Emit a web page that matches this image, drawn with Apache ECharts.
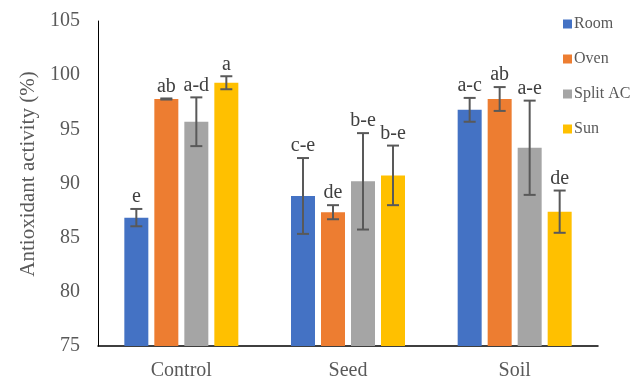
<!DOCTYPE html>
<html><head><meta charset="utf-8">
<script src="https://cdn.jsdelivr.net/npm/echarts@6/dist/echarts.min.js"></script>
<style>html,body{margin:0;padding:0;background:#fff}#c{width:642px;height:383px}</style>
</head><body><div id="c"></div>
<script>
const categories = ['Control', 'Seed', 'Soil'];
const seriesNames = ['Room', 'Oven', 'Split AC', 'Sun'];
const room = [86.85, 88.85, 96.8];
const oven = [97.8, 87.35, 97.8];
const splitAC = [95.7, 90.2, 93.3];
const sun = [99.3, 90.75, 87.4];
const roomErr = [0.8, 3.5, 1.1];
const ovenErr = [0.05, 0.65, 1.1];
const splitACErr = [2.25, 4.45, 4.35];
const sunErr = [0.6, 2.75, 1.95];
const roomLetters = ['e', 'c-e', 'a-c'];
const ovenLetters = ['ab', 'de', 'ab'];
const splitACLetters = ['a-d', 'b-e', 'a-e'];
const sunLetters = ['a', 'b-e', 'de'];
const yTicks = [75, 80, 85, 90, 95, 100, 105];
const yTitle = 'Antioxidant activity (%)';

const colors = ['#4472C4', '#ED7D31', '#A5A5A5', '#FFC000'];
const values = [room, oven, splitAC, sun];
const errs = [roomErr, ovenErr, splitACErr, sunErr];
const letters = [roomLetters, ovenLetters, splitACLetters, sunLetters];
const font = 'Liberation Serif';
const barW = 24, step = 30;

const series = [];
values.forEach((v, i) => {
  series.push({
    name: seriesNames[i], type: 'bar', data: v, barWidth: barW, barGap: '25%',
    itemStyle: { color: colors[i] }, z: 2
  });
});
values.forEach((v, i) => {
  series.push({
    type: 'custom', z: 5, silent: true,
    data: v.map((m, k) => [k, m, errs[i][k]]),
    renderItem: function (params, api) {
      const k = api.value(0), m = api.value(1), e = api.value(2);
      const off = (i - 1.5) * step;
      const top = api.coord([k, m + e]);
      const bot = api.coord([k, m - e]);
      const x = top[0] + off;
      const cap = 6;
      const st = { stroke: '#595959', lineWidth: 2 };
      return {
        type: 'group', children: [
          { type: 'line', shape: { x1: x, y1: top[1], x2: x, y2: bot[1] }, style: st },
          { type: 'line', shape: { x1: x - cap, y1: top[1], x2: x + cap, y2: top[1] }, style: st },
          { type: 'line', shape: { x1: x - cap, y1: bot[1], x2: x + cap, y2: bot[1] }, style: st },
          { type: 'text', style: { text: letters[i][k], x: x, y: top[1] - 2, align: 'center', verticalAlign: 'bottom',
              font: '20px "' + font + '"', fill: '#404040' } }
        ]
      };
    }
  });
});

const chart = echarts.init(document.getElementById('c'));
chart.setOption({
  animation: false,
  textStyle: { fontFamily: font },
  grid: { left: 98, right: 44, top: 21, bottom: 37, containLabel: false },
  legend: {
    data: seriesNames, orient: 'vertical', left: 558, top: 11,
    itemWidth: 9, itemHeight: 9, itemGap: 19, icon: 'rect',
    textStyle: { fontFamily: font, fontSize: 16, color: '#595959', padding: [0, 0, 0, -3] }
  },
  graphic: [{
    type: 'text', rotation: Math.PI / 2, x: 28, y: 174,
    style: { text: yTitle, align: 'center', verticalAlign: 'middle', font: '21px "' + font + '"', fill: '#595959' }
  }],
  xAxis: {
    type: 'category', data: categories,
    axisLine: { lineStyle: { color: '#000', width: 1.5 } },
    axisTick: { show: false },
    axisLabel: { fontFamily: font, fontSize: 20, color: '#595959', margin: 15 }
  },
  yAxis: {
    type: 'value', min: yTicks[0], max: yTicks[yTicks.length - 1], interval: 5,
    axisLine: { show: true, lineStyle: { color: '#000', width: 1 } },
    axisTick: { show: false }, splitLine: { show: false },
    axisLabel: { fontFamily: font, fontSize: 20, color: '#595959', margin: 18 }
  },
  series: series
});
</script></body></html>
